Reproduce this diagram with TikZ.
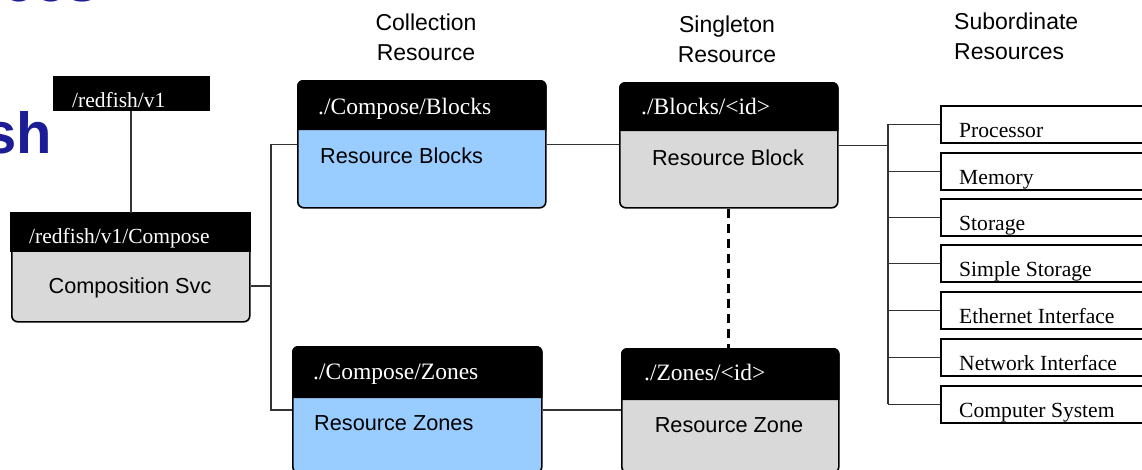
\documentclass[tikz,border=0pt]{standalone}
\usepackage{fontspec}
\setmainfont{Liberation Serif}
\setsansfont{Liberation Sans}
\definecolor{bodyblue}{HTML}{99CCFF}
\definecolor{bodygray}{HTML}{D9D9D9}
\definecolor{titleblue}{RGB}{28,28,150}
\definecolor{wire}{HTML}{333333}
\tikzset{
  resbox/.style={draw=black, line width=1.6pt, rounded corners=6pt, anchor=north west, inner sep=0pt},
  hdrtext/.style={text=white, font=\fontsize{21.5}{24}\selectfont, anchor=base west, inner sep=0pt},
  bighdr/.style={hdrtext, font=\fontsize{23.5}{26}\selectfont},
  bodytext/.style={font=\sffamily\fontsize{21.7}{24}\selectfont, inner sep=0pt, anchor=base},
  subbox/.style={draw=black, line width=1.6pt, anchor=north west, minimum width=220pt, minimum height=37pt, inner sep=0pt},
  subtext/.style={font=\fontsize{21.6}{24}\selectfont, anchor=base west, inner sep=0pt},
  wireline/.style={draw=wire, line width=1.4pt},
  dashlink/.style={draw=black, line width=3pt, dash pattern=on 9pt off 6pt},
  toplabel/.style={font=\sffamily\fontsize{23}{30}\selectfont, inner sep=0pt},
  titletext/.style={text=titleblue, font=\sffamily\bfseries\fontsize{58}{60}\selectfont, anchor=base west, inner sep=0pt},
}
\newcommand{\hdrfill}[2]{\fill[black] ([yshift=-#2pt]#1.north west) {[rounded corners=6pt] -- (#1.north west) -- (#1.north east)} -- ([yshift=-#2pt]#1.north east) -- cycle;}
\begin{document}
\begin{tikzpicture}[x=1pt,y=-1pt]
\useasboundingbox (0,0) rectangle (1142,469);
\fill[white] (0,0) rectangle (1142,469);

% partial title
\node[titletext] (title1) at (2,1) {ces};
\node[titletext] (title2) at (-16,153) {sh};

% column labels
\node[toplabel, align=center] (lcoll) at (426,37) {Collection\\Resource};
\node[toplabel, align=center] (lsing) at (727,39) {Singleton\\Resource};
\node[toplabel, align=left, anchor=west] (lsub) at (954,36) {Subordinate\\Resources};

% root
\node[fill=black, anchor=north west, minimum width=157pt, minimum height=35pt, inner sep=0pt] (root) at (53,76) {};
\node[hdrtext] (troot) at (72,107) {/redfish/v1};

% compose service
\node[resbox, fill=bodygray, minimum width=238pt, minimum height=108pt] (compose) at (11,213) {};
\fill[black] ([xshift=-0.8pt,yshift=0.8pt]compose.north west) rectangle ([xshift=0.8pt,yshift=-39pt]compose.north east);
\node[hdrtext] (tcompose) at (29,243) {/redfish/v1/Compose};
\node[bodytext] (bcompose) at (130,293) {Composition Svc};

% collections
\node[resbox, fill=bodyblue, minimum width=248pt, minimum height=127pt] (blocks) at (297,80) {};
\hdrfill{blocks}{50}
\node[bighdr] (tblocks) at (318,114) {./Compose/Blocks};
\node[bodytext, anchor=base west] (bblocks) at (320,163) {Resource Blocks};

\node[resbox, fill=bodyblue, minimum width=249pt, minimum height=126pt] (zones) at (292,346) {};
\hdrfill{zones}{52}
\node[bighdr] (tzones) at (313,379) {./Compose/Zones};
\node[bodytext, anchor=base west] (bzones) at (314,430) {Resource Zones};

% singletons
\node[resbox, fill=bodygray, minimum width=218pt, minimum height=125pt] (sblock) at (619,82) {};
\hdrfill{sblock}{49}
\node[bighdr] (tsblock) at (641,114) {./Blocks/<id>};
\node[bodytext] (bsblock) at (728,165) {Resource Block};

\node[resbox, fill=bodygray, minimum width=217pt, minimum height=124pt] (szone) at (621,348) {};
\hdrfill{szone}{52}
\node[bighdr] (tszone) at (644,380) {./Zones/<id>};
\node[bodytext] (bszone) at (729,432) {Resource Zone};

% subordinate resources
\node[subbox] (sub1) at (940,105) {};
\node[subbox] (sub2) at (940,152) {};
\node[subbox] (sub3) at (940,198) {};
\node[subbox] (sub4) at (940,244) {};
\node[subbox] (sub5) at (940,291) {};
\node[subbox] (sub6) at (940,338) {};
\node[subbox] (sub7) at (940,385) {};
\node[subtext] (tsub1) at (959,137) {Processor};
\node[subtext] (tsub2) at (959,184) {Memory};
\node[subtext] (tsub3) at (959,230) {Storage};
\node[subtext] (tsub4) at (959,276) {Simple Storage};
\node[subtext] (tsub5) at (959,323) {Ethernet Interface};
\node[subtext] (tsub6) at (959,370) {Network Interface};
\node[subtext] (tsub7) at (959,417) {Computer System};

% connectors
\coordinate (ba) at (271,0);
\coordinate (bx) at (888,0);
\draw[wireline] (root.south -| compose.north) -- (compose.north);
\draw[wireline] ([yshift=-18pt]compose.east) -- ([yshift=-18pt]compose.east -| ba);
\draw[wireline] (blocks.west) -- (blocks.west -| ba) -- (zones.west -| ba) -- (zones.west);
\draw[wireline] (blocks.east) -- (blocks.east -| sblock.west);
\draw[wireline] (zones.east) -- (zones.east -| szone.west);
\draw[wireline] (sblock.east) -- (sblock.east -| bx);
\draw[wireline] (sub1.west -| bx) -- (sub7.west -| bx);
\foreach \i in {1,...,7} {\draw[wireline] (sub\i.west) -- (sub\i.west -| bx);}
\draw[dashlink] (sblock.south) -- (sblock.south |- szone.north);
\end{tikzpicture}
\end{document}
